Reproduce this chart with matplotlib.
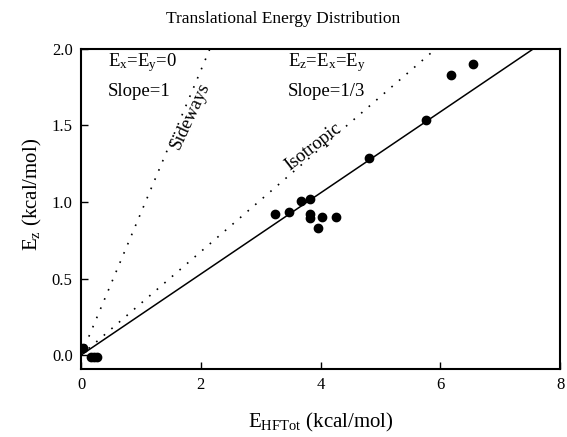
import matplotlib
matplotlib.use("Agg")
import matplotlib.pyplot as plt

plt.rcParams["font.family"] = "Liberation Serif"
plt.rcParams["mathtext.fontset"] = "custom"
plt.rcParams["mathtext.rm"] = "Liberation Serif"
plt.rcParams["mathtext.it"] = "Liberation Serif"

#### Data

e_tot = [0.04, 0.16, 0.22, 0.27, 3.24, 3.47, 3.67, 3.83, 3.83, 3.83, 3.95, 4.03, 4.26, 4.81, 5.76, 6.18, 6.54]
e_z = [0.044, -0.01, -0.01, -0.01, 0.92, 0.937, 1.005, 1.02, 0.92, 0.893, 0.832, 0.90, 0.904, 1.29, 1.536, 1.83, 1.90]

fit_x = [0, 7.55]
fit_y = [0, 2.0]
side_x = [0, 2.15]
side_y = [0, 2.0]
iso_x = [0, 5.92]
iso_y = [0, 2.0]

#### Plot

fig = plt.figure(figsize=(5.67, 4.37), dpi=100)
ax = fig.add_axes([0.143, 0.156, 0.845, 0.732])

ax.plot(fit_x, fit_y, color="black", lw=1.1)
ax.plot(side_x, side_y, color="black", lw=1.2, linestyle=(0, (1, 5)))
ax.plot(iso_x, iso_y, color="black", lw=1.2, linestyle=(0, (1, 5)))
ax.scatter(e_tot, e_z, s=36, color="black", zorder=3)

ax.set_xlim(0, 8)
ax.set_ylim(-0.09, 2.0)
ax.set_xticks([0, 2, 4, 6, 8])
ax.set_yticks([0.0, 0.5, 1.0, 1.5, 2.0])
ax.set_yticklabels(["0.0", "0.5", "1.0", "1.5", "2.0"])
ax.tick_params(direction="in", labelsize=12, length=5, width=1, pad=6)
for s in ax.spines.values():
    s.set_linewidth(1.5)

ax.text(0.45, 1.91, "E$_x$=E$_y$=0", fontsize=13.5, va="center")
ax.text(0.45, 1.72, "Slope=1", fontsize=13.5, va="center")
ax.text(3.45, 1.91, "E$_z$=E$_x$=E$_y$", fontsize=13.5, va="center")
ax.text(3.45, 1.72, "Slope=1/3", fontsize=13.5, va="center")
ax.text(1.82, 1.56, "Sideways", fontsize=13.5, rotation=65, ha="center", va="center")
ax.text(3.87, 1.36, "Isotropic", fontsize=13.5, rotation=38, ha="center", va="center")

ax.set_xlabel("E$_{HFTot}$ (kcal/mol)", fontsize=15, labelpad=13)
ax.set_ylabel("E$_z$ (kcal/mol)", fontsize=15)
ax.yaxis.set_label_coords(-0.077, 0.544)
fig.suptitle("Translational Energy Distribution", fontsize=12.5, y=0.975)

fig.savefig("out.png")
